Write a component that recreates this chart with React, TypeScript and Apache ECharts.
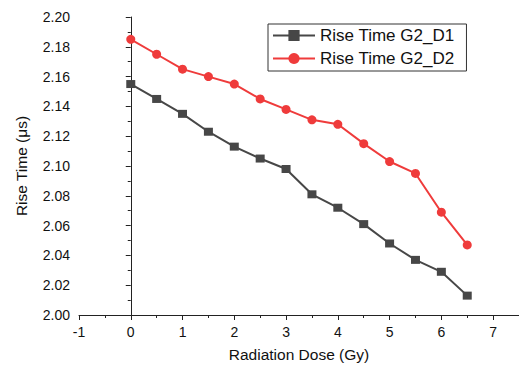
import React, { useEffect, useRef } from "react";
import * as echarts from "echarts";

const doses = [0, 0.5, 1, 1.5, 2, 2.5, 3, 3.5, 4, 4.5, 5, 5.5, 6, 6.5];
const riseD1 = [2.155, 2.145, 2.135, 2.123, 2.113, 2.105, 2.098, 2.081, 2.072, 2.061, 2.048, 2.037, 2.029, 2.013];
const riseD2 = [2.185, 2.175, 2.165, 2.16, 2.155, 2.145, 2.138, 2.131, 2.128, 2.115, 2.103, 2.095, 2.069, 2.047];
const seriesNames = ["Rise Time G2_D1", "Rise Time G2_D2"];
const xAxisName = "Radiation Dose (Gy)";
const yAxisName = "Rise Time (\u03bcs)";

const FONT = "'Liberation Sans', Arial, sans-serif";

export default function App() {
  const ref = useRef<HTMLDivElement>(null);
  useEffect(() => {
    if (!ref.current) return;
    const chart = echarts.init(ref.current, undefined, { renderer: "svg" });
    const axisCommon = {
      axisLine: { show: true, lineStyle: { color: "#222", width: 1 } },
      axisTick: { show: true, inside: false, length: 5, lineStyle: { color: "#222" } },
      minorTick: { show: true, splitNumber: 2, length: 3, lineStyle: { color: "#222" } },
      splitLine: { show: false },
      nameTextStyle: { fontFamily: FONT, fontSize: 15.5, color: "#111" },
    };
    chart.setOption({
      animation: false,
      backgroundColor: "#fff",
      grid: { left: 79, right: -2, top: 17, bottom: 48, containLabel: false },
      legend: {
        orient: "vertical",
        left: 268,
        top: 24,
        padding: [3, 12, 4, 4],
        borderColor: "#333",
        borderWidth: 1,
        itemWidth: 42,
        itemHeight: 14,
        itemGap: 6,
        textStyle: { fontFamily: FONT, fontSize: 17, color: "#111" },
        data: seriesNames,
      },
      xAxis: {
        type: "value",
        min: -1,
        max: 7.5,
        interval: 1,
        name: xAxisName,
        nameLocation: "middle",
        nameGap: 31,
        ...axisCommon,
        axisLabel: {
          fontFamily: FONT,
          fontSize: 14,
          color: "#111",
          margin: 10,
          showMaxLabel: false,
          formatter: (v: number) => (Number.isInteger(v) ? String(v) : ""),
        },
      },
      yAxis: {
        type: "value",
        min: 2.0,
        max: 2.2,
        interval: 0.02,
        name: yAxisName,
        nameLocation: "middle",
        nameGap: 50,
        ...axisCommon,
        axisLabel: {
          fontFamily: FONT,
          fontSize: 14,
          color: "#111",
          margin: 9,
          formatter: (v: number) => v.toFixed(2),
        },
      },
      series: [
        {
          name: seriesNames[0],
          type: "line",
          data: doses.map((d, i) => [d, riseD1[i]]),
          symbol: "rect",
          symbolSize: [9, 8],
          color: "#474747",
          lineStyle: { width: 2, color: "#474747" },
          itemStyle: { color: "#474747" },
        },
        {
          name: seriesNames[1],
          type: "line",
          data: doses.map((d, i) => [d, riseD2[i]]),
          symbol: "circle",
          symbolSize: 9,
          color: "#ef3b3b",
          lineStyle: { width: 2, color: "#ef3b3b" },
          itemStyle: { color: "#ef3b3b" },
        },
      ],
    });
    return () => chart.dispose();
  }, []);
  return (
    <div
      ref={ref}
      style={{ position: "absolute", left: 0, top: 0, width: 519, height: 367 }}
    />
  );
}
